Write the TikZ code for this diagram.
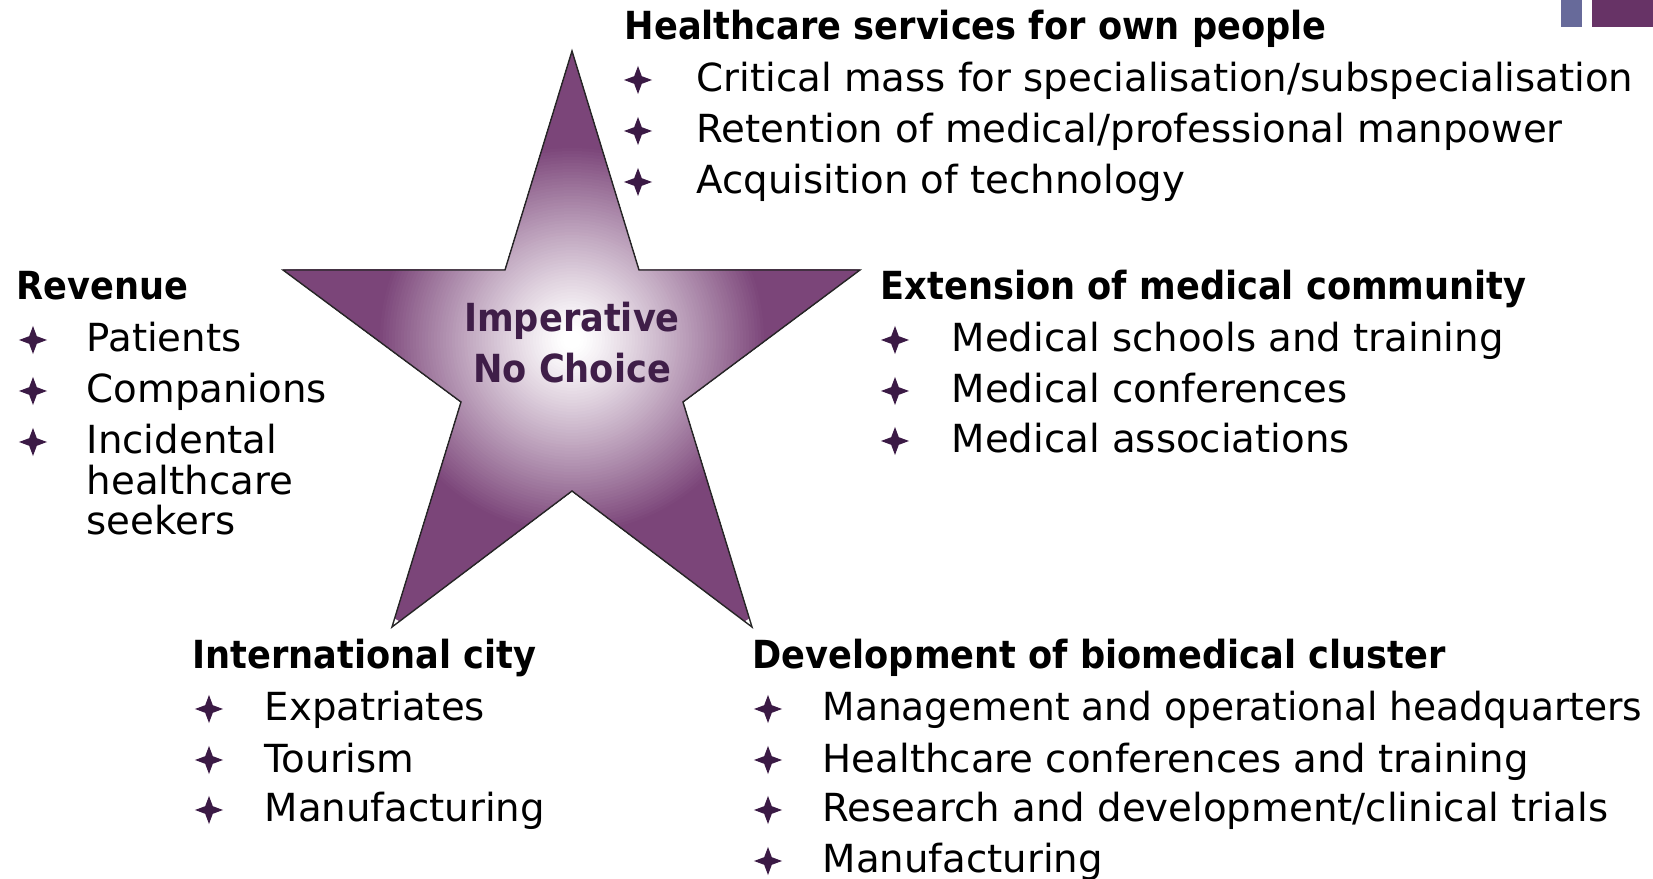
\documentclass[tikz,border=0pt]{standalone}
\usepackage{fontspec}
\setmainfont{DejaVu Sans}[BoldFeatures={FakeStretch=0.91}]
\usetikzlibrary{shapes.geometric}
\definecolor{starpurple}{HTML}{7B4579}
\definecolor{bulletpurple}{HTML}{3B1A45}
\definecolor{centertext}{HTML}{3F1E48}
\definecolor{rectblue}{HTML}{676A9A}
\definecolor{rectpurple}{HTML}{673366}
\newcommand{\bodysize}{\fontsize{11pt}{13pt}\selectfont}
\tikzset{
  hd/.style={font=\bodysize\bfseries, anchor=base west, inner sep=0pt},
  itm/.style={font=\bodysize, anchor=base west, inner sep=0pt},
  bul/.style={star, star points=4, star point ratio=2.6, fill=bulletpurple, draw=none, minimum size=0.28cm, inner sep=0pt},
  ctr/.style={font=\fontsize{11pt}{13pt}\selectfont\bfseries, text=centertext, anchor=base, inner sep=0pt},
  starline/.style={draw=black!85, line width=0.4pt}
}
\begin{document}
\begin{tikzpicture}[x=0.01cm, y=-0.01cm]
\useasboundingbox (0,0) rectangle (1653,879);
% corner rectangles
\fill[rectblue] (1561,0) rectangle (1582,27);
\fill[rectpurple] (1592,0) rectangle (1653,27);
% star
\def\starpath{(572,51) -- (639,270) -- (860,270) -- (683,402) -- (752,627) -- (572,491) -- (392,627) -- (461,402) -- (283,270) -- (505,270) -- cycle}
\begin{scope}
  \clip \starpath;
  \foreach \r in {330,327,...,3} {
    \pgfmathsetmacro\p{100*(max(min((\r-10)/185,1),0.001))^1.15}
    \fill[starpurple!\p!white] (572,340) circle (\r);
  }
\end{scope}
\draw[starline] \starpath;
\node[ctr] (c1) at (572,332) {Imperative};
\node[ctr] (c2) at (572,383) {No Choice};
% top group
\node[hd] (h1) at (624,40) {Healthcare services for own people};
\node[bul] (b11) at (638,80) {};
\node[itm] (t11) at (696,92) {Critical mass for specialisation/subspecialisation};
\node[bul] (b12) at (638,131) {};
\node[itm] (t12) at (696,143) {Retention of medical/professional manpower};
\node[bul] (b13) at (638,182) {};
\node[itm] (t13) at (696,194) {Acquisition of technology};
% right group
\node[hd] (h2) at (880,300) {Extension of medical community};
\node[bul] (b21) at (895,340) {};
\node[itm] (t21) at (951,352) {Medical schools and training};
\node[bul] (b22) at (895,391) {};
\node[itm] (t22) at (951,403) {Medical conferences};
\node[bul] (b23) at (895,441) {};
\node[itm] (t23) at (951,453) {Medical associations};
% left group
\node[hd] (h3) at (16,300) {Revenue};
\node[bul] (b31) at (33,340) {};
\node[itm] (t31) at (86,352) {Patients};
\node[bul] (b32) at (33,391) {};
\node[itm] (t32) at (86,403) {Companions};
\node[bul] (b33) at (33,442) {};
\node[itm] (t33) at (86,454) {Incidental};
\node[itm] (t34) at (86,495) {healthcare};
\node[itm] (t35) at (86,535) {seekers};
% bottom-left group
\node[hd] (h4) at (192,669) {International city};
\node[bul] (b41) at (209,709) {};
\node[itm] (t41) at (264,721) {Expatriates};
\node[bul] (b42) at (209,760) {};
\node[itm] (t42) at (264,772) {Tourism};
\node[bul] (b43) at (209,810) {};
\node[itm] (t43) at (264,822) {Manufacturing};
% bottom-right group
\node[hd] (h5) at (752,669) {Development of biomedical cluster};
\node[bul] (b51) at (768,709) {};
\node[itm] (t51) at (822,721) {\scalebox{0.97}[1]{Management and operational headquarters}};
\node[bul] (b52) at (768,760) {};
\node[itm] (t52) at (822,772) {Healthcare conferences and training};
\node[bul] (b53) at (768,810) {};
\node[itm] (t53) at (822,822) {Research and development/clinical trials};
\node[bul] (b54) at (768,861) {};
\node[itm] (t54) at (822,873) {Manufacturing};
\end{tikzpicture}
\end{document}
